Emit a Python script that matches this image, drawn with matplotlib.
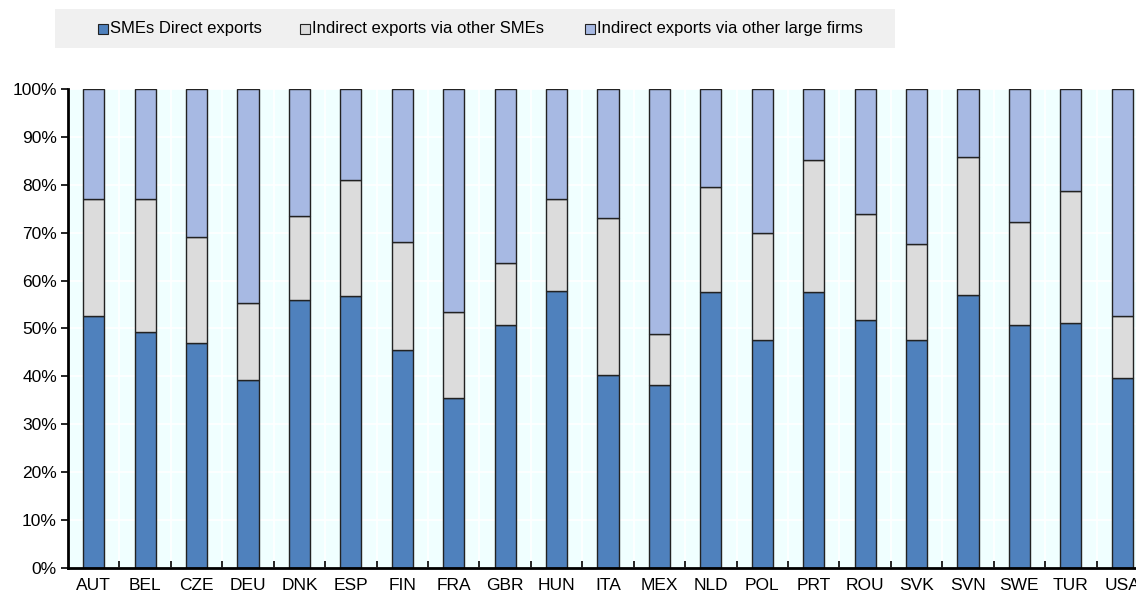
import matplotlib.pyplot as plt
from matplotlib.patches import Rectangle
import numpy as np

countries = ["AUT", "BEL", "CZE", "DEU", "DNK", "ESP", "FIN", "FRA", "GBR", "HUN", "ITA",
             "MEX", "NLD", "POL", "PRT", "ROU", "SVK", "SVN", "SWE", "TUR", "USA"]
# shares in percent of SME exports
direct = [52.7, 49.3, 47.0, 39.2, 55.9, 56.8, 45.6, 35.5, 50.8, 57.9, 40.3,
          38.3, 57.6, 47.5, 57.6, 51.8, 47.5, 57.0, 50.7, 51.1, 39.7]
via_smes = [24.3, 27.7, 22.2, 16.1, 17.6, 24.2, 22.4, 18.0, 12.9, 19.2, 32.8,
            10.5, 22.0, 22.5, 27.6, 22.0, 20.2, 28.9, 21.6, 27.7, 13.0]
via_large = [100 - d - s for d, s in zip(direct, via_smes)]
series_names = ["SMEs Direct exports", "Indirect exports via other SMEs",
                "Indirect exports via other large firms"]

colors = ["#4F81BD", "#DCDCDC", "#A7B9E3"]

plt.rcParams['font.family'] = ['Liberation Sans', 'DejaVu Sans']

fig = plt.figure(figsize=(11.36, 5.91), dpi=100)
ax = fig.add_axes([68 / 1136, 23 / 591, 1080 / 1136, 479 / 591])
ax.set_facecolor("#F0FFFF")

x = np.arange(len(countries))
w = 0.41
bottom = np.zeros(len(countries))
for vals, c in zip([direct, via_smes, via_large], colors):
    ax.bar(x, vals, w, bottom=bottom, color=c, edgecolor="#222222", linewidth=1.0, zorder=3)
    bottom += np.array(vals)

ax.set_xlim(-0.5, len(countries) - 0.5)
ax.set_ylim(0, 100)
ax.set_yticks(np.arange(0, 101, 10))
ax.set_yticklabels([f"{v}%" for v in range(0, 101, 10)])
ax.set_xticks(x)
ax.set_xticklabels(countries)
ax.set_xticks(np.arange(0.5, len(countries) - 0.5, 1), minor=True)

ax.tick_params(axis="x", which="major", length=0, labelsize=12.5, pad=7)
ax.tick_params(axis="x", which="minor", direction="in", length=5, width=1.2, color="black")
ax.tick_params(axis="y", direction="out", length=5, width=1.2, labelsize=12.5, pad=3)

ax.grid(axis="y", color="white", linewidth=1.2, zorder=1)
ax.grid(axis="x", which="minor", color="white", linewidth=1.2, zorder=1)
ax.set_axisbelow(True)

for side in ["top", "right"]:
    ax.spines[side].set_visible(False)
for side in ["left", "bottom"]:
    ax.spines[side].set_linewidth(2)
    ax.spines[side].set_zorder(4)

# legend strip on top
fig.patches.append(Rectangle((55 / 1136, 1 - 48 / 591), 840 / 1136, 39 / 591,
                             transform=fig.transFigure, facecolor="#F0F0F0",
                             edgecolor="none", zorder=0))
legend_x = [103, 305, 590]
for lx, name, c in zip(legend_x, series_names, colors):
    fig.patches.append(Rectangle(((lx - 5) / 1136, 1 - 34 / 591), 10 / 1136, 10 / 591,
                                 transform=fig.transFigure, facecolor=c,
                                 edgecolor="#222222", linewidth=0.8))
    fig.text((lx + 7) / 1136, 1 - 29 / 591, name, fontsize=12, va="center",
             family=['Liberation Sans Narrow', 'Liberation Sans', 'DejaVu Sans'])

fig.savefig("out.png", dpi=100)
